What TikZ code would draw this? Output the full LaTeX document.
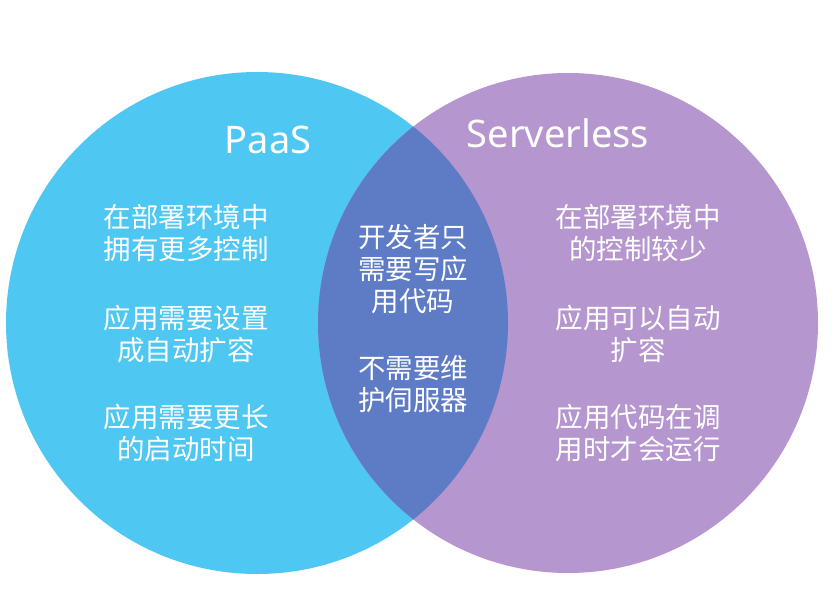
\documentclass[tikz,border=0pt]{standalone}
\usepackage{fontspec}
\setmainfont{Noto Sans}
\newfontfamily\cjk{Noto Sans CJK SC}
\definecolor{paasblue}{RGB}{78,199,243}
\definecolor{slpurple}{RGB}{181,150,206}
\definecolor{overlap}{RGB}{94,123,198}
\begin{document}
\begin{tikzpicture}[x=1pt,y=-1pt,
  title/.style={text=white,font=\fontsize{38}{42}\selectfont,inner sep=0pt},
  body/.style={text=white,font=\cjk\fontsize{27.5}{32}\selectfont,align=center,inner sep=0pt}]
\useasboundingbox (0,0) rectangle (835,594);
\coordinate (cl) at (257,323);
\coordinate (cr) at (568,323);
\fill[paasblue] (cl) circle (251);
\fill[slpurple] (cr) circle (250);
\begin{scope}
  \clip (cl) circle (251);
  \fill[overlap] (cr) circle (250);
\end{scope}
\node[title] (paas) at (268,140) {PaaS};
\node[title] (sl) at (558,133) {Serverless};
\node[body] (l1) at (186,233) {在部署环境中\\拥有更多控制};
\node[body] (l2) at (186,334) {应用需要设置\\成自动扩容};
\node[body] (l3) at (186,433) {应用需要更长\\的启动时间};
\node[body] (m1) at (413,269) {开发者只\\需要写应\\用代码};
\node[body] (m2) at (413,384) {不需要维\\护伺服器};
\node[body] (r1) at (638,233) {在部署环境中\\的控制较少};
\node[body] (r2) at (638,334) {应用可以自动\\扩容};
\node[body] (r3) at (638,433) {应用代码在调\\用时才会运行};
\end{tikzpicture}
\end{document}
